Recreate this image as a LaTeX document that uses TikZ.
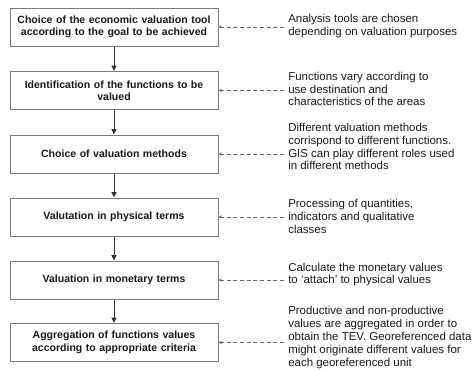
\documentclass[tikz,border=0pt]{standalone}
\usepackage{fontspec}
\setmainfont{Liberation Sans}
\usetikzlibrary{arrows.meta}
\definecolor{boxline}{HTML}{7A7A7A}
\definecolor{textc}{HTML}{1A1A1A}
\definecolor{arrowc}{HTML}{333333}
\definecolor{dashc}{HTML}{6A6A6A}
\begin{document}
\begin{tikzpicture}[x=0.75pt,y=-0.75pt,
  stepbox/.style={draw=boxline, line width=0.75pt, fill=white,
    minimum width=156pt, minimum height=28.5pt, text width=150pt,
    align=center, inner sep=0pt, text=textc,
    font=\fontsize{7.9}{9.4}\selectfont\bfseries},
  note/.style={anchor=west, align=left, inner sep=0pt, text=textc,
    font=\fontsize{8.6}{9.6}\selectfont},
  flow/.style={draw=arrowc, line width=0.75pt,
    -{Triangle[length=4pt,width=3.6pt]}},
  link/.style={draw=dashc, line width=0.6pt, dash pattern=on 3pt off 2pt,
    -{Stealth[length=2.6pt,width=2.4pt]}}]
\useasboundingbox (0,0) rectangle (473,369);

% process steps
\node[stepbox] (b1) at (114,27)    {Choice of the economic valuation tool\\according to the goal to be achieved};
\node[stepbox] (b2) at (114,90.5)  {Identification of the functions to be\\valued};
\node[stepbox] (b3) at (114,154)   {Choice of valuation methods};
\node[stepbox] (b4) at (114,217)   {Valutation in physical terms};
\node[stepbox] (b5) at (114,280)   {Valuation in monetary terms};
\node[stepbox] (b6) at (114,342.5) {Aggregation of functions values\\according to appropriate criteria};

% explanatory notes
\node[note] (n1) at (288,26)    {Analysis tools are chosen\\depending on valuation purposes};
\node[note] (n2) at (288,89)    {Functions vary according to\\use destination and\\characteristics of the areas};
\node[note] (n3) at (288,146.5) {Different valuation methods\\corrispond to different functions.\\GIS can play different roles used\\in different methods};
\node[note] (n4) at (288,216.5) {Processing of quantities,\\indicators and qualitative\\classes};
\node[note] (n5) at (288,274.5) {Calculate the monetary values\\to ‘attach’ to physical values};
\node[note] (n6) at (288,337.5) {Productive and non-productive\\values are aggregated in order to\\obtain the TEV. Georeferenced data\\might originate different values for\\each georeferenced unit};

% main flow
\draw[flow] (b1) -- (b2);
\draw[flow] (b2) -- (b3);
\draw[flow] (b3) -- (b4);
\draw[flow] (b4) -- (b5);
\draw[flow] (b5) -- (b6);

% dashed links from notes to steps
\foreach \i in {1,...,6}
  \draw[link] ([xshift=-3pt]n\i.west |- b\i.east) -- (b\i.east);
\end{tikzpicture}
\end{document}
